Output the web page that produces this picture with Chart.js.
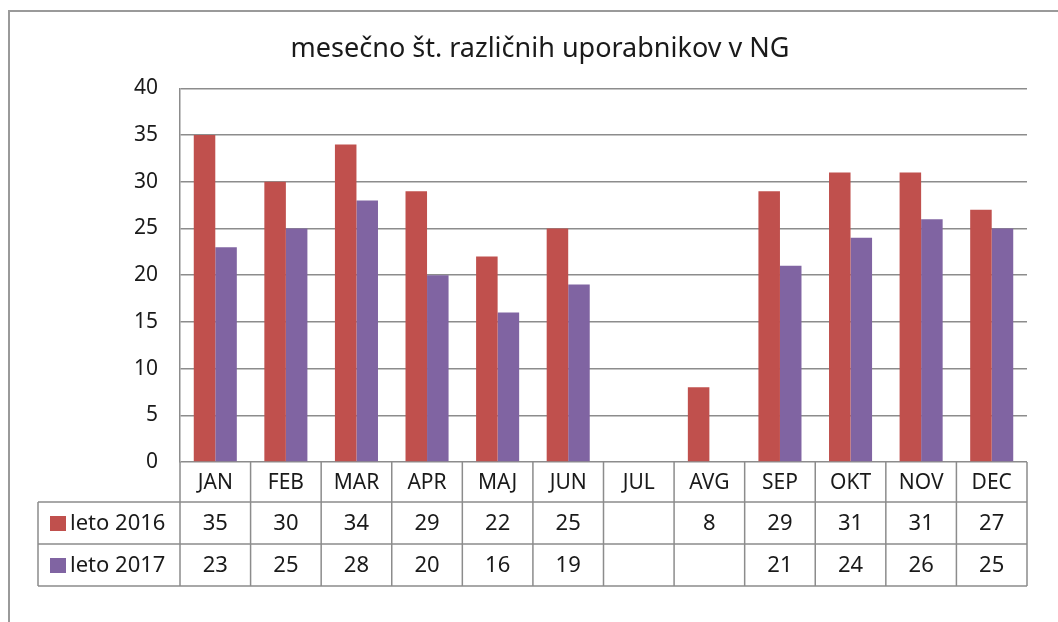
<!DOCTYPE html>
<html>
<head>
<meta charset="utf-8">
<script src="https://cdn.jsdelivr.net/npm/chart.js@4.4.1/dist/chart.umd.min.js"></script>
<style>
  html, body { margin: 0; padding: 0; background: #fff; }
  #wrap { width: 1058px; height: 622px; }
</style>
</head>
<body>
<div id="wrap"><canvas id="usersChart" width="1058" height="622"></canvas></div>
<script>
// Data
const months = ['JAN', 'FEB', 'MAR', 'APR', 'MAJ', 'JUN', 'JUL', 'AVG', 'SEP', 'OKT', 'NOV', 'DEC'];
const users2016 = [35, 30, 34, 29, 22, 25, null, 8, 29, 31, 31, 27];
const users2017 = [23, 25, 28, 20, 16, 19, null, null, 21, 24, 26, 25];
const seriesNames = ['leto 2016', 'leto 2017'];
const yTicks = [0, 5, 10, 15, 20, 25, 30, 35, 40];

const red = '#C0504D';
const purple = '#8064A2';
const lineGray = '#8c8c8c';
const fontFamily = "'Noto Sans', 'Open Sans', sans-serif";

// Outer frame + data table under the plot
const tablePlugin = {
    id: 'dataTable',
    beforeDraw(chart) {
        const ctx = chart.ctx;
        ctx.save();
        ctx.strokeStyle = '#9a9a9a';
        ctx.lineWidth = 2;
        ctx.beginPath();
        ctx.moveTo(9, chart.height + 5);
        ctx.lineTo(9, 11);
        ctx.lineTo(chart.width + 5, 11);
        ctx.stroke();
        ctx.restore();
    },
    afterDraw(chart) {
        const ctx = chart.ctx;
        const xs = chart.scales.x;
        const area = chart.chartArea;
        const half = (xs.getPixelForValue(1) - xs.getPixelForValue(0)) / 2;
        const tableLeft = 38;
        const headerBottom = area.bottom + 40;
        const rowH = 42;
        const bottom = headerBottom + rowH * 2;

        ctx.save();
        ctx.strokeStyle = lineGray;
        ctx.lineWidth = 1.5;
        ctx.beginPath();
        // horizontal lines
        [headerBottom, headerBottom + rowH, bottom].forEach(y => {
            ctx.moveTo(tableLeft, y);
            ctx.lineTo(area.right, y);
        });
        // vertical lines at category edges
        for (let i = 0; i <= months.length; i++) {
            const x = i < months.length ? xs.getPixelForValue(i) - half : xs.getPixelForValue(months.length - 1) + half;
            ctx.moveTo(x, area.bottom);
            ctx.lineTo(x, bottom);
        }
        ctx.moveTo(tableLeft, headerBottom);
        ctx.lineTo(tableLeft, bottom);
        ctx.stroke();

        // values and legend keys
        const series = [users2016, users2017];
        const colors = [red, purple];
        ctx.font = '22px ' + fontFamily;
        ctx.textBaseline = 'middle';
        series.forEach((vals, r) => {
            const cy = headerBottom + rowH * r + rowH / 2;
            ctx.fillStyle = colors[r];
            ctx.fillRect(50, cy - 7, 16, 15);
            ctx.fillStyle = '#1a1a1a';
            ctx.textAlign = 'left';
            ctx.fillText(seriesNames[r], 70, cy + 1);
            ctx.textAlign = 'center';
            vals.forEach((v, i) => {
                if (v !== null) ctx.fillText(String(v), xs.getPixelForValue(i), cy + 1);
            });
        });
        ctx.restore();
    }
};

const ctx = document.getElementById('usersChart').getContext('2d');
const usersChart = new Chart(ctx, {
    type: 'bar',
    data: {
        labels: months,
        datasets: [
            { label: seriesNames[0], data: users2016, backgroundColor: red },
            { label: seriesNames[1], data: users2017, backgroundColor: purple }
        ]
    },
    options: {
        responsive: false,
        animation: false,
        devicePixelRatio: 1,
        layout: { padding: { left: 53, right: 31, top: 0, bottom: 0 } },
        datasets: {
            bar: { categoryPercentage: 0.61, barPercentage: 1.0 }
        },
        plugins: {
            legend: { display: false },
            tooltip: { enabled: false },
            title: {
                display: true,
                text: 'mesečno št. različnih uporabnikov v NG',
                color: '#1a1a1a',
                font: { family: fontFamily, size: 27, weight: 'normal', lineHeight: 1.2 },
                padding: { top: 33, bottom: 23 }
            }
        },
        scales: {
            x: {
                afterFit: (scale) => { scale.height = 160; },
                grid: { display: false, drawTicks: false },
                border: { display: false },
                ticks: {
                    padding: 8,
                    color: '#1a1a1a',
                    font: { family: fontFamily, size: 21 }
                }
            },
            y: {
                min: 0,
                max: 40,
                afterFit: (scale) => { scale.width = 127; },
                afterBuildTicks: (scale) => { scale.ticks = yTicks.map(v => ({ value: v })); },
                grid: { color: lineGray, lineWidth: 1.5, drawTicks: false },
                border: { display: true, color: lineGray, width: 1.5 },
                ticks: {
                    padding: 22,
                    color: '#1a1a1a',
                    font: { family: fontFamily, size: 21 }
                }
            }
        }
    },
    plugins: [tablePlugin]
});
</script>
</body>
</html>
